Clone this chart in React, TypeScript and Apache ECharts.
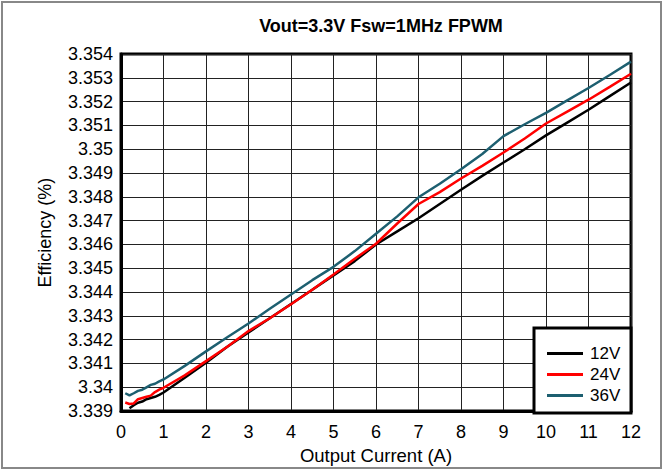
import React, { useEffect, useRef } from "react";
import * as echarts from "echarts";

const currents = [0.1, 0.2, 0.3, 0.4, 0.5, 0.6, 0.7, 0.8, 0.9, 1, 1.5, 2, 2.5, 3, 3.5, 4, 4.5, 5, 5.5, 6, 6.5, 7, 7.5, 8, 8.5, 9, 9.5, 10, 10.5, 11, 11.5, 12];

const v12 = [null, 3.33912, 3.33925, 3.33935, 3.3394, 3.3395, 3.33955, 3.3396, 3.33968, 3.33978, 3.3404, 3.34103, 3.3417, 3.3423, 3.3429, 3.3435, 3.3441, 3.3447, 3.3453, 3.346, 3.34655, 3.3471, 3.3477, 3.3483, 3.34888, 3.34944, 3.35, 3.35058, 3.35112, 3.35166, 3.35223, 3.3528];

const v24 = [3.33936, 3.3393, 3.33932, 3.3395, 3.33955, 3.3396, 3.33965, 3.3398, 3.3399, 3.33998, 3.3405, 3.3411, 3.3417, 3.34236, 3.3429, 3.34349, 3.3441, 3.34474, 3.3454, 3.34603, 3.34688, 3.3477, 3.3482, 3.34877, 3.3493, 3.34986, 3.35045, 3.35108, 3.35158, 3.35208, 3.35262, 3.35317];

const v36 = [3.33975, 3.33966, 3.33975, 3.33985, 3.3399, 3.34, 3.3401, 3.34015, 3.34025, 3.34033, 3.3409, 3.34151, 3.3421, 3.34268, 3.3433, 3.3439, 3.3445, 3.34506, 3.34572, 3.34645, 3.34718, 3.34798, 3.34855, 3.34916, 3.3498, 3.35055, 3.35105, 3.35153, 3.35205, 3.35257, 3.35312, 3.35368];

const seriesNames = ["12V", "24V", "36V"];
const seriesColors = ["#000000", "#ff0000", "#1d5f70"];
const seriesValues = [v12, v24, v36];

const FONT = "'Liberation Sans', Arial, sans-serif";

export default function App() {
  const ref = useRef<HTMLDivElement>(null);
  useEffect(() => {
    if (!ref.current) return;
    const chart = echarts.init(ref.current, null, { renderer: "svg" });
    chart.setOption({
      animation: false,
      backgroundColor: "#fff",
      title: {
        text: "Vout=3.3V Fsw=1MHz FPWM",
        left: 376,
        textAlign: "center",
        top: 12,
        textStyle: { fontFamily: FONT, fontSize: 18, fontWeight: "bold", color: "#000" },
      },
      grid: {
        left: 121,
        right: 32,
        top: 54,
        bottom: 56.5,
        show: true,
        borderColor: "#000",
        borderWidth: 3,
      },
      xAxis: {
        type: "value",
        min: 0,
        max: 12,
        interval: 1,
        name: "Output Current (A)",
        nameLocation: "middle",
        nameGap: 33,
        nameTextStyle: { fontFamily: FONT, fontSize: 18.5, color: "#000" },
        axisLine: { show: true, lineStyle: { color: "#000", width: 3 } },
        axisTick: { show: false },
        axisLabel: { fontFamily: FONT, fontSize: 18, color: "#000", margin: 12 },
        splitLine: { show: true, lineStyle: { color: "#222", width: 1 } },
      },
      yAxis: {
        type: "value",
        min: 3.339,
        max: 3.354,
        interval: 0.001,
        name: "Efficiency (%)",
        nameLocation: "middle",
        nameGap: 67,
        nameTextStyle: { fontFamily: FONT, fontSize: 18, color: "#000" },
        axisLine: { show: true, lineStyle: { color: "#000", width: 3 } },
        axisTick: { show: false },
        axisLabel: {
          fontFamily: FONT,
          fontSize: 18,
          color: "#000",
          margin: 8,
          formatter: (v: number) => String(+v.toFixed(3)),
        },
        splitLine: { show: true, lineStyle: { color: "#222", width: 1 } },
      },
      legend: {
        orient: "vertical",
        left: 542,
        top: 340,
        z: 200,
        icon: "rect",
        itemWidth: 36,
        itemHeight: 3,
        itemGap: 4,
        textStyle: { fontFamily: FONT, fontSize: 17, color: "#000", padding: [0, 0, 0, 2] },
        data: seriesNames,
      },
      graphic: [
        {
          type: "rect",
          z: 100,
          shape: { x: 534, y: 328, width: 97, height: 85 },
          style: { fill: "#fff", stroke: "#000", lineWidth: 3 },
        },
        {
          type: "rect",
          z: 100,
          shape: { x: 2, y: 2, width: 659, height: 466 },
          style: { fill: "none", stroke: "#888", lineWidth: 2 },
        },
      ],
      series: seriesNames.map((name, i) => ({
        name,
        type: "line",
        symbol: "none",
        color: seriesColors[i],
        lineStyle: { color: seriesColors[i], width: 2.5 },
        data: currents.map((c, j) => [c, seriesValues[i][j]]),
        connectNulls: false,
      })),
    });
    return () => chart.dispose();
  }, []);
  return (
    <div
      ref={ref}
      style={{ position: "absolute", left: 0, top: 0, width: 663, height: 470 }}
    />
  );
}
